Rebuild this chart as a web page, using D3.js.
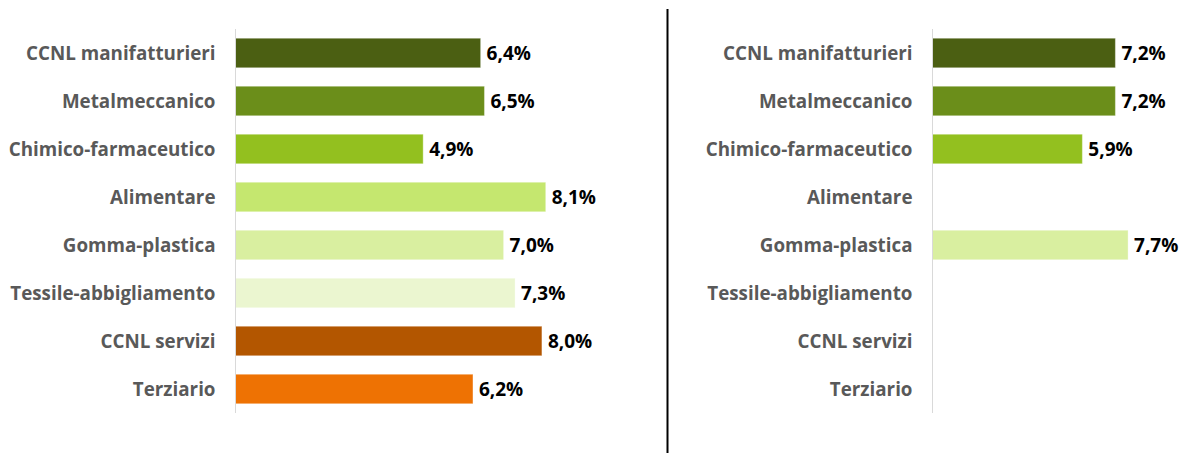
<!DOCTYPE html>
<html><head><meta charset="utf-8">
<script src="https://cdn.jsdelivr.net/npm/d3@7"></script>
<style>
html,body{margin:0;padding:0;background:#fff;}
svg{display:block;}
text{font-family:"Open Sans",sans-serif;font-weight:700;}
</style></head>
<body>
<svg id="chart" width="1181" height="453"></svg>
<script>
const categories = ["CCNL manifatturieri","Metalmeccanico","Chimico-farmaceutico","Alimentare","Gomma-plastica","Tessile-abbigliamento","CCNL servizi","Terziario"];
const colors = ["#4b5f12","#6b8e1a","#93c01f","#c5e76f","#d9efa0","#ebf6d0","#b35600","#ee7203"];
const leftValues = [6.4, 6.5, 4.9, 8.1, 7.0, 7.3, 8.0, 6.2];
const rightValues = [7.2, 7.2, 5.9, null, 7.7, null, null, null];

const svg = d3.select("#chart");
const fmt = v => d3.format(".1f")(v).replace(".", ",") + "%";

const y = d3.scaleBand().domain(categories).range([29, 413]).paddingInner(0.385).paddingOuter(0.1925);

function panel(axisX, pxPerUnit, values) {
  const x = d3.scaleLinear().domain([0, 10]).range([axisX, axisX + pxPerUnit * 10]);
  const g = svg.append("g");
  const data = categories.map((c, i) => ({c, v: values[i], col: colors[i]}));
  g.selectAll("text.cat").data(data).join("text")
    .attr("class", "cat")
    .attr("x", axisX - 20)
    .attr("y", d => y(d.c) + y.bandwidth() / 2)
    .attr("dy", "0.37em")
    .attr("text-anchor", "end")
    .attr("fill", "#595959")
    .attr("font-size", 18.8)
    .text(d => d.c);
  const bd = data.filter(d => d.v != null);
  g.selectAll("rect").data(bd).join("rect")
    .attr("x", x(0))
    .attr("y", d => y(d.c))
    .attr("width", d => x(d.v) - x(0))
    .attr("height", y.bandwidth())
    .attr("fill", d => d.col)
    .attr("stroke", "rgba(255,255,255,0.35)")
    .attr("stroke-width", 1);
  g.selectAll("text.val").data(bd).join("text")
    .attr("class", "val")
    .attr("x", d => x(d.v) + 6)
    .attr("y", d => y(d.c) + y.bandwidth() / 2)
    .attr("dy", "0.37em")
    .attr("fill", "#000")
    .attr("font-size", 19)
    .text(d => fmt(d.v));
  g.append("line")
    .attr("x1", axisX).attr("x2", axisX)
    .attr("y1", 29).attr("y2", 413)
    .attr("stroke", "#d9d9d9").attr("stroke-width", 1);
}

panel(235.5, 38.3, leftValues);
panel(932.5, 25.4, rightValues);

svg.append("line")
  .attr("x1", 667.5).attr("x2", 667.5)
  .attr("y1", 9).attr("y2", 453)
  .attr("stroke", "#000").attr("stroke-width", 2);
</script>
</body></html>
